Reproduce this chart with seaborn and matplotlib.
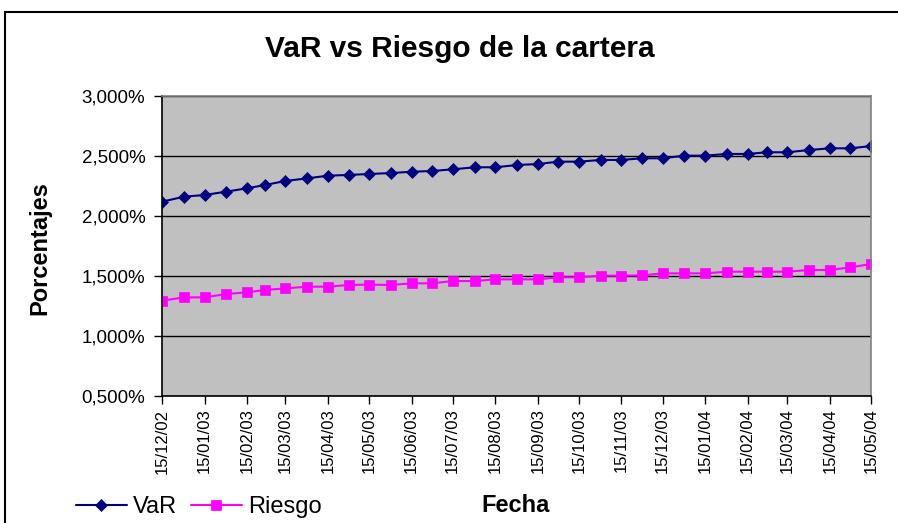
# VaR vs Riesgo de la cartera - recreation with seaborn

import pandas as pd
import matplotlib.pyplot as plt
from matplotlib.ticker import FuncFormatter
from matplotlib.patches import Rectangle
import seaborn as sns

# -------------------------------
# DATA
# -------------------------------

fechas = ["15/12/02", "31/12/02", "15/01/03", "31/01/03", "15/02/03", "28/02/03",
          "15/03/03", "31/03/03", "15/04/03", "30/04/03", "15/05/03", "31/05/03",
          "15/06/03", "30/06/03", "15/07/03", "31/07/03", "15/08/03", "31/08/03",
          "15/09/03", "30/09/03", "15/10/03", "31/10/03", "15/11/03", "30/11/03",
          "15/12/03", "31/12/03", "15/01/04", "31/01/04", "15/02/04", "29/02/04",
          "15/03/04", "31/03/04", "15/04/04", "30/04/04", "15/05/04"]

var = [2.119, 2.161, 2.175, 2.203, 2.231, 2.258, 2.292, 2.314, 2.336, 2.342,
       2.350, 2.358, 2.369, 2.375, 2.389, 2.406, 2.406, 2.425, 2.433, 2.453,
       2.453, 2.467, 2.467, 2.481, 2.481, 2.503, 2.503, 2.517, 2.517, 2.531,
       2.531, 2.550, 2.564, 2.564, 2.583]

riesgo = [1.294, 1.322, 1.322, 1.350, 1.364, 1.383, 1.397, 1.411, 1.411, 1.425,
          1.428, 1.425, 1.439, 1.439, 1.458, 1.458, 1.472, 1.472, 1.472, 1.489,
          1.489, 1.503, 1.503, 1.505, 1.522, 1.522, 1.522, 1.536, 1.536, 1.536,
          1.536, 1.550, 1.550, 1.572, 1.600]

ticks_fecha = ["15/12/02", "15/01/03", "15/02/03", "15/03/03", "15/04/03", "15/05/03",
               "15/06/03", "15/07/03", "15/08/03", "15/09/03", "15/10/03", "15/11/03",
               "15/12/03", "15/01/04", "15/02/04", "15/03/04", "15/04/04", "15/05/04"]

y_ticks = [0.5, 1.0, 1.5, 2.0, 2.5, 3.0]

df = pd.DataFrame({'Fecha': pd.to_datetime(fechas, format='%d/%m/%y'),
                   'VaR': var,
                   'Riesgo': riesgo})

# -------------------------------
# STYLE
# -------------------------------

sns.set_style('white')
plt.rcParams['font.family'] = ['Liberation Sans', 'DejaVu Sans']
plt.rcParams['text.color'] = 'black'
plt.rcParams['xtick.color'] = 'black'
plt.rcParams['ytick.color'] = 'black'

W, H = 898, 523
fig = plt.figure(figsize=(W / 100, H / 100), dpi=100)
ax = fig.add_axes([162 / W, 1 - 396 / H, (871 - 162) / W, 300 / H])

# -------------------------------
# LINES
# -------------------------------

sns.lineplot(data=df, x='Fecha', y='VaR', ax=ax, color='#000080',
             marker='D', markersize=6.5, markeredgecolor='#000080',
             markeredgewidth=0.5, linewidth=1.5, label='VaR')

sns.lineplot(data=df, x='Fecha', y='Riesgo', ax=ax, color='#FF00FF',
             marker='s', markersize=7.5, markeredgecolor='#FF00FF',
             markeredgewidth=0.5, linewidth=1.5, label='Riesgo')

handles, labels = ax.get_legend_handles_labels()
ax.get_legend().remove()

# -------------------------------
# AXES
# -------------------------------

ax.set_facecolor('#C0C0C0')
ax.set_xlim(df['Fecha'].min(), df['Fecha'].max())
ax.set_ylim(0.5, 3.0)
ax.set_yticks(y_ticks)
ax.yaxis.set_major_formatter(FuncFormatter(lambda v, p: f"{v:.3f}%".replace('.', ',')))

ax.set_xticks(pd.to_datetime(ticks_fecha, format='%d/%m/%y'))
ax.set_xticklabels(ticks_fecha, rotation=90)

ax.tick_params(axis='both', bottom=True, left=True, direction='out',
               length=6, width=1, color='black')
ax.tick_params(axis='y', labelsize=13.5, pad=6)
ax.tick_params(axis='x', labelsize=12, pad=3)

ax.yaxis.grid(True, color='black', linewidth=1)
ax.set_axisbelow(True)

ax.spines['left'].set_color('black')
ax.spines['bottom'].set_color('black')
ax.spines['top'].set_color('#808080')
ax.spines['right'].set_color('#808080')
for s in ax.spines.values():
    s.set_linewidth(1.2)

ax.set_xlabel('')
ax.set_ylabel('')

# -------------------------------
# TEXTS AND LEGEND
# -------------------------------

fig.text(460 / W, 1 - 49 / H, 'VaR vs Riesgo de la cartera',
         ha='center', va='center', fontsize=21.5, fontweight='bold')

fig.text(40 / W, 1 - 248 / H, 'Porcentajes', rotation=90,
         ha='center', va='center', fontsize=17, fontweight='bold')

fig.text(516 / W, 1 - 506 / H, 'Fecha',
         ha='center', va='center', fontsize=17, fontweight='bold')

fig.legend(handles, labels, loc='center left', bbox_to_anchor=(76 / W, 1 - 507 / H),
           ncol=2, frameon=False, fontsize=17, handlelength=2.15,
           handletextpad=0.25, columnspacing=0.6, borderpad=0, borderaxespad=0)

# chart frame
fig.add_artist(Rectangle((5 / W, -0.1), 1.1, 1.1 - 12 / H, transform=fig.transFigure,
                         fill=False, edgecolor='black', linewidth=1.5))

fig.savefig('out.png', dpi=100)
